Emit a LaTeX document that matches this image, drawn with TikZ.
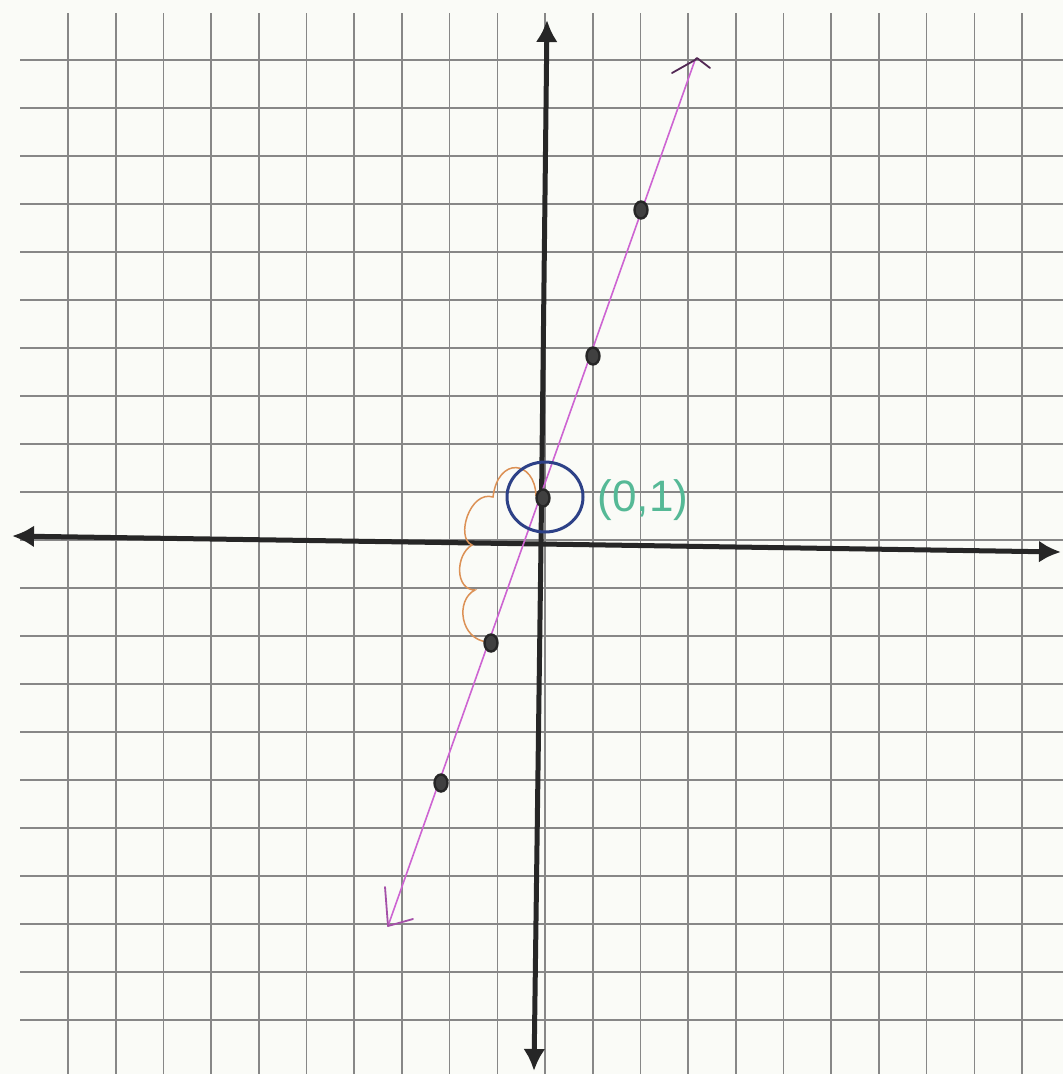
\documentclass[tikz,border=0pt]{standalone}
\usepackage{fontspec}
\setmainfont{Liberation Sans}
\usetikzlibrary{shapes.geometric,arrows.meta}
\definecolor{paper}{RGB}{250,251,247}
\definecolor{gridc}{RGB}{135,135,135}
\definecolor{magentaline}{RGB}{205,100,210}
\definecolor{bluecirc}{RGB}{45,65,135}
\definecolor{greentext}{RGB}{85,185,150}
\definecolor{orangec}{RGB}{220,145,85}
\tikzset{
  gridline/.style={draw=gridc,line width=1.6pt},
  axisline/.style={draw=black!85,line width=5pt,-{Latex[length=22pt,width=22pt]}},
  dotpt/.style={ellipse,minimum width=13pt,minimum height=17pt,inner sep=0pt,fill=gray!50!black,draw=black!85,line width=2.4pt},
  graphline/.style={draw=magentaline,line width=1.6pt},
  handtip/.style={line width=1.8pt,line cap=round,line join=round},
}
\begin{document}
\begin{tikzpicture}[x=1pt,y=-1pt]
\useasboundingbox (0,0) rectangle (1063,1074);
\fill[paper] (0,0) rectangle (1063,1074);
% grid
\foreach \k in {-10,...,10}{
  \draw[gridline] ({545+47.7*\k},13) -- ({545+47.7*\k},1074);
}
\foreach \j in {-10,...,10}{
  \draw[gridline] (20,{540+48*\j}) -- (1063,{540+48*\j});
}
% axes
\coordinate (xl) at (12,536);
\coordinate (xr) at (1061,552);
\coordinate (yt) at (547,20);
\coordinate (yb) at (534,1071);
\coordinate (o) at (541,544);
\draw[axisline] (o) -- (xl);
\draw[axisline] (o) -- (xr);
\draw[axisline] (o) -- (yt);
\draw[axisline] (o) -- (yb);
% graph line
\coordinate (lb) at (388,926);
\coordinate (lt) at (695,60);
\draw[graphline] (lb) -- (lt);
\draw[handtip,draw=black!60!magentaline] (672,73) -- (lt) -- (697,58) -- (710,68);
\draw[handtip,draw=magentaline!80!black] (385,887) -- (lb) -- (413,919);
% orange steps
\draw[draw=orangec,line width=1.5pt]
  (536,496) .. controls (535,460) and (498,456) .. (493,497)
  .. controls (470,490) and (455,538) .. (472,545)
  .. controls (455,555) and (455,590) .. (475,590)
  .. controls (455,600) and (460,640) .. (488,642);
% blue circle
\node[ellipse,draw=bluecirc,line width=3pt,minimum width=76pt,minimum height=70pt,inner sep=0pt] (circ) at (545,497) {};
% points
\node[dotpt] (p0) at (543,498) {};
\node[dotpt] (p1) at (593,356) {};
\node[dotpt] (p2) at (641,210) {};
\node[dotpt] (pm1) at (491,643) {};
\node[dotpt] (pm2) at (441,783) {};
% label
\node[text=greentext,font=\fontsize{44}{44}\selectfont,inner sep=0pt] (lab) at (643,500) {(0,1)};
\end{tikzpicture}
\end{document}
